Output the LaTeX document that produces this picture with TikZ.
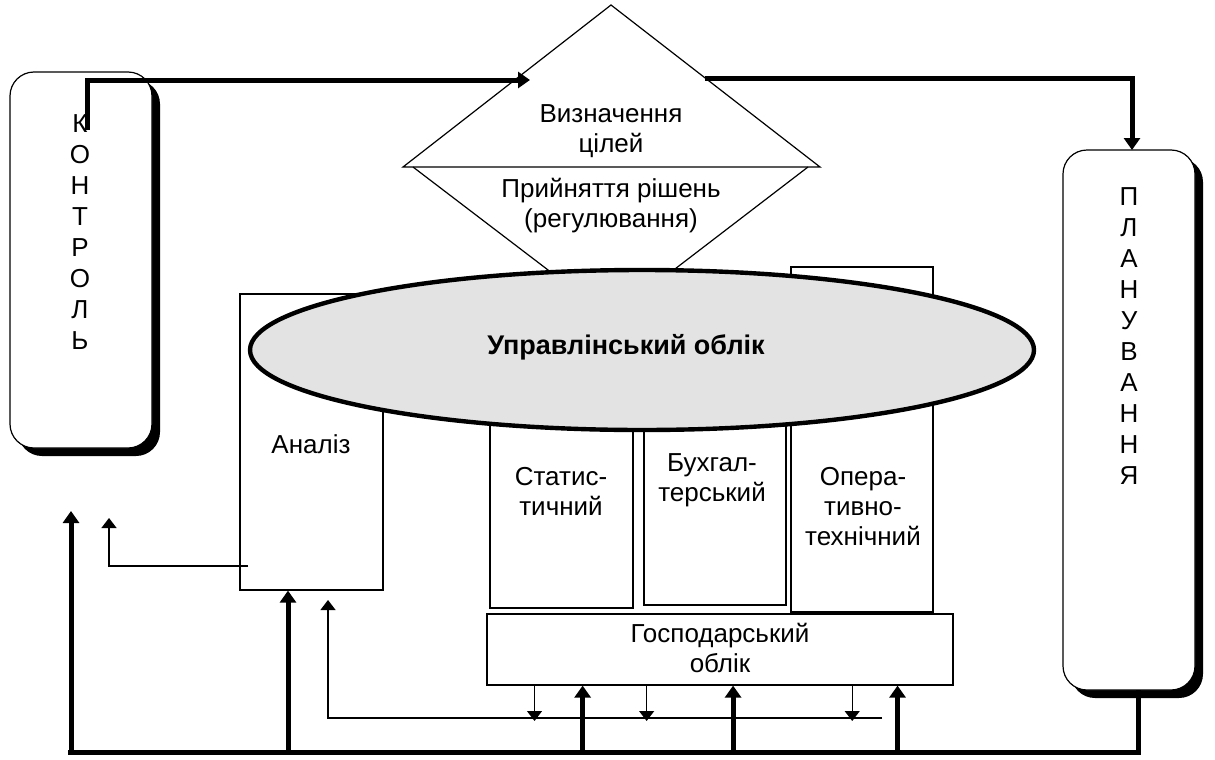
\documentclass[tikz,border=0pt]{standalone}
\usepackage{fontspec}
\setmainfont{Liberation Sans}
\usetikzlibrary{arrows.meta,shapes.geometric,shadows,calc}
\definecolor{ellgray}{RGB}{227,227,227}
\tikzset{
  txt/.style={font=\fontsize{13pt}{15pt}\selectfont, align=center, inner sep=0pt},
  lettercol/.style={font=\fontsize{13pt}{15.5pt}\selectfont, align=center, inner sep=0pt},
  sidebox/.style={draw, line width=0.6pt, rounded corners=12pt, fill=white, minimum width=71pt,
    drop shadow={shadow xshift=4pt, shadow yshift=-4pt, fill=black, opacity=1}},
  areabox/.style={draw, line width=0.6pt, fill=white, minimum width=71.5pt, inner sep=0pt},
  thick arrow/.style={line width=2.5pt, -{Triangle[width=8pt,length=6pt]}},
  thin arrow/.style={line width=0.6pt, -{Triangle[width=7.5pt,length=5pt]}},
}
\begin{document}
\begin{tikzpicture}[x=0.5pt, y=-0.5pt]
\useasboundingbox (0,0) rectangle (1215,760);
% side blocks
\node[sidebox, minimum height=188pt] (ctrl) at (81,260) {};
\node[lettercol] (ctrltext) at (80,232) {К\\О\\Н\\Т\\Р\\О\\Л\\Ь};
\node[sidebox, minimum width=66pt, minimum height=270pt] (plan) at (1129,420) {};
\node[lettercol] (plantext) at (1129,336) {П\\Л\\А\\Н\\У\\В\\А\\Н\\Н\\Я};
% accounting blocks
\node[areabox, minimum height=148pt] (anal) at (311.5,442) {};
\node[txt] (analtext) at (311,444) {Аналіз};
\node[areabox, minimum height=104pt] (stat) at (561.5,504) {};
\node[txt] (stattext) at (561,491) {Статис-\\тичний};
\node[areabox, minimum width=71pt, minimum height=102.5pt] (buh) at (715,502.5) {};
\node[txt] (buhtext) at (712,480) {Бухгал-\\терський};
\node[areabox, minimum width=71pt, minimum height=172.5pt] (oper) at (862,439.5) {};
\node[txt] (opertext) at (863,507) {Опера-\\тивно-\\технічний};
\node[areabox, minimum width=233pt, minimum height=35.5pt] (hosp) at (720,649.5) {};
\node[txt] (hosptext) at (720,648) {Господарський\\облік};
% diamond
\coordinate (lowL) at (413,167);
\coordinate (lowR) at (808,167);
\coordinate (lowB) at (611,318);
\coordinate (upL) at (403,167);
\coordinate (upT) at (611,5);
\coordinate (upR) at (820,167);
\draw[line width=0.6pt, fill=white] (lowL) -- (lowB) -- (lowR);
\draw[line width=0.6pt] (upL) -- (upT) -- (upR) -- cycle;
\node[txt] (goaltext) at (611,131) {Визначення\\цілей};
\node[txt] (dectext) at (611,206) {Прийняття рішень\\(регулювання)};
% ellipse
\node[ellipse, draw, line width=2.2pt, fill=ellgray, minimum width=392pt, minimum height=80pt] (mgmt) at (642,350) {};
\node[txt, font=\fontsize{13.5pt}{15pt}\selectfont\bfseries] (mgmttext) at (626,347) {Управлінський облік};
% connectors
\coordinate (ctrlout) at (87,130);
\coordinate (goalin) at (530,80);
\coordinate (goalout) at (705,78);
\coordinate (planin) at (1132,150);
\coordinate (planout) at (1138,690);
\coordinate (baseL) at (68,752);
\draw[thick arrow] (ctrlout) |- (goalin);
\draw[thick arrow] (goalout) -| (planin);
\draw[line width=2.5pt] (planout) |- (baseL);
\coordinate (ctrlfeed) at (71,511);
\draw[thick arrow] (ctrlfeed |- baseL) -- (ctrlfeed);
\coordinate (analin) at ([xshift=-11.75pt]anal.south);
\draw[thick arrow] (analin |- baseL) -- (analin);
\foreach \f [count=\i] in {0.206,0.528,0.88}
  \coordinate (hup\i) at ($(hosp.south west)!\f!(hosp.south east)$);
\foreach \i in {1,2,3}
  \draw[thick arrow] (hup\i |- baseL) -- (hup\i);
% feedback lines
\coordinate (feedR) at (882,718);
\coordinate (analfeed) at (328,600);
\draw[thin arrow] (feedR) -| (analfeed);
\foreach \f [count=\i] in {0.103,0.343,0.783}
  \coordinate (hdn\i) at ($(hosp.south west)!\f!(hosp.south east)$);
\foreach \i in {1,2,3}
  \draw[thin arrow] (hdn\i) -- (hdn\i |- 0,721);
\coordinate (analL) at (248,566);
\coordinate (ctrlfeed2) at (109,518);
\draw[thin arrow] (analL) -| (ctrlfeed2);
\end{tikzpicture}
\end{document}
